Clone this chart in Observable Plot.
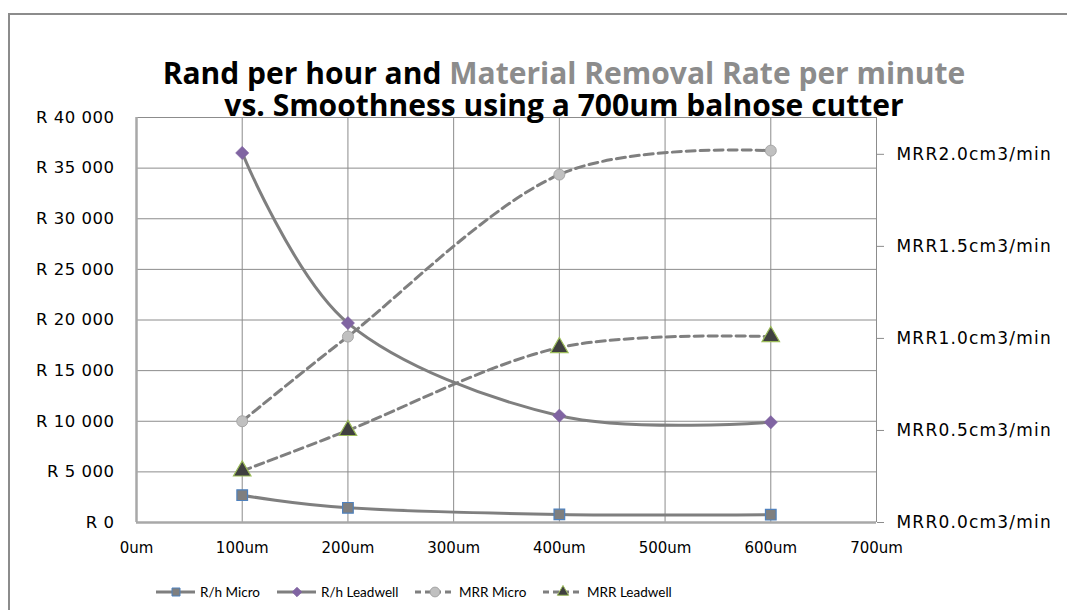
<!DOCTYPE html>
<html><head><meta charset="utf-8">
<script src="https://cdn.jsdelivr.net/npm/d3@7"></script>
<script src="https://cdn.jsdelivr.net/npm/@observablehq/plot@0.6"></script>
<style>
body{margin:0;background:#fff;}
#wrap{position:relative;width:1067px;height:610px;overflow:hidden;font-family:"DejaVu Sans",sans-serif;background:#fff;}
#frame{position:absolute;left:8px;top:13px;width:1200px;height:700px;border:2px solid #8c8c8c;}
#title{position:absolute;left:0;top:57px;width:1128px;text-align:center;font-family:"Open Sans",sans-serif;font-weight:700;font-size:30px;line-height:32px;color:#000;white-space:nowrap;z-index:2;}
#title .g{color:#8c8c8c;}
#plot{position:absolute;left:0;top:100px;z-index:1;}
.leg{position:absolute;top:583px;height:18px;display:flex;align-items:center;font-family:Lato,sans-serif;font-size:13.5px;color:#000;white-space:nowrap;}
.leg svg{margin-right:4px;}
</style>
</head><body>
<div id="wrap">
  <div id="frame"></div>
  <div id="title">Rand per hour and <span class="g">Material Removal Rate per minute</span><br>vs. Smoothness using a 700um balnose cutter</div>
  <div id="plot"></div>
  <div id="legend"></div>
</div>
<script>
// ---- data ----
const smoothness = [100, 200, 400, 600];            // um
const rhMicro    = [2700, 1450, 800, 770];          // Rand per hour
const rhLeadwell = [36500, 19700, 10550, 9900];     // Rand per hour
const mrrMicro   = [0.55, 1.01, 1.89, 2.02];        // cm3/min
const mrrLeadwell= [0.28, 0.50, 0.95, 1.01];        // cm3/min
const seriesNames = ["R/h Micro", "R/h Leadwell", "MRR Micro", "MRR Leadwell"];
const xTicks = [0, 100, 200, 300, 400, 500, 600, 700];
const leftTicks = [0, 5000, 10000, 15000, 20000, 25000, 30000, 35000, 40000];
const rightTicks = [0, 0.5, 1.0, 1.5, 2.0];
const leftMax = 40000, rightMax = 2.2;

// ---- build ----
const K = leftMax / rightMax;
const rh = [], mrr = [];
smoothness.forEach((s, i) => {
  rh.push({x: s, y: rhMicro[i], series: seriesNames[0]});
  rh.push({x: s, y: rhLeadwell[i], series: seriesNames[1]});
  mrr.push({x: s, y: mrrMicro[i] * K, v: mrrMicro[i], series: seriesNames[2]});
  mrr.push({x: s, y: mrrLeadwell[i] * K, v: mrrLeadwell[i], series: seriesNames[3]});
});
const sel = (arr, name) => arr.filter(d => d.series === name);
const fmtR = d => "R " + d3.format(",")(d).replace(/,/g, " ");
const curve = d3.curveCardinal.tension(0);

const grid = "#8c8c8c";
const line = "#7f7f7f";
const chart = Plot.plot({
  width: 1067, height: 460,
  marginLeft: 136, marginRight: 191, marginTop: 17, marginBottom: 38,
  style: {fontFamily: "DejaVu Sans, sans-serif", fontSize: "15px", color: "#000", background: "transparent"},
  x: {domain: [0, 700]},
  y: {domain: [0, leftMax]},
  marks: [
    Plot.gridX(xTicks, {stroke: grid, strokeOpacity: 1}),
    Plot.gridY(leftTicks, {stroke: grid, strokeOpacity: 1}),
    Plot.ruleX([0], {stroke: "#a8a8a8", strokeWidth: 2.5}),
    Plot.ruleY([0], {stroke: "#a8a8a8", strokeWidth: 2.5}),
    Plot.axisY(leftTicks, {anchor: "left", tickSize: 0, tickPadding: 22, tickFormat: fmtR, label: null, fontSize: 16.5}),
    Plot.axisY(rightTicks.map(v => v * K), {anchor: "right", tickSize: 7, stroke: grid, tickPadding: 13, tickFormat: d => "MRR" + (d / K).toFixed(1) + "cm3/min", label: null, fontSize: 17}),
    Plot.axisX(xTicks, {anchor: "bottom", tickSize: 0, tickPadding: 20, tickFormat: d => d + "um", label: null, fontSize: 15}),
    Plot.line(rh, {x: "x", y: "y", z: "series", curve, stroke: line, strokeWidth: 3}),
    Plot.line(mrr, {x: "x", y: "y", z: "series", curve, stroke: line, strokeWidth: 3, strokeDasharray: "9,5"}),
    Plot.dot(sel(rh, seriesNames[0]), {x: "x", y: "y", symbol: "square", r: 6, fill: "#7f7f7f", stroke: "#4f81bd", strokeWidth: 1.2}),
    Plot.dot(sel(rh, seriesNames[1]), {x: "x", y: "y", symbol: "diamond2", r: 6, fill: "#8064a2", stroke: "#8064a2", strokeWidth: 0.5}),
    Plot.dot(sel(mrr, seriesNames[2]), {x: "x", y: "y", symbol: "circle", r: 5.5, fill: "#c0c0c0", stroke: "#a6a6a6", strokeWidth: 1}),
    Plot.dot(sel(mrr, seriesNames[3]), {x: "x", y: "y", symbol: "triangle", r: 6.5, fill: "#404040", stroke: "#9bbb59", strokeWidth: 1.2})
  ]
});
// widen the y tick labels a little (reference font is wider)
d3.select(chart).selectAll('g[aria-label="y-axis tick label"]').each(function() {
  const anchor = this.getAttribute("text-anchor");
  d3.select(this).style("letter-spacing", anchor === "start" ? "1.2px" : "0.5px");
});
document.getElementById("plot").appendChild(chart);

// ---- legend ----
const legItems = [
  {name: seriesNames[0], left: 155, dash: null, sym: d3.symbolSquare, size: 64, fill: "#7f7f7f", stroke: "#4f81bd"},
  {name: seriesNames[1], left: 276, dash: null, sym: d3.symbolDiamond2, size: 55, fill: "#8064a2", stroke: "#8064a2"},
  {name: seriesNames[2], left: 414, dash: "6,4", sym: d3.symbolCircle, size: 75, fill: "#c0c0c0", stroke: "#a6a6a6"},
  {name: seriesNames[3], left: 542, dash: "6,4", sym: d3.symbolTriangle, size: 55, fill: "#404040", stroke: "#9bbb59"}
];
const leg = document.getElementById("legend");
legItems.forEach(it => {
  const div = document.createElement("div");
  div.className = "leg";
  div.style.left = it.left + "px";
  const svg = d3.create("svg").attr("width", 41).attr("height", 14);
  svg.append("line").attr("x1", 1).attr("x2", 40).attr("y1", 7).attr("y2", 7)
    .attr("stroke", line).attr("stroke-width", 3).attr("stroke-dasharray", it.dash);
  svg.append("path").attr("d", d3.symbol(it.sym, it.size)()).attr("transform", "translate(21,7)")
    .attr("fill", it.fill).attr("stroke", it.stroke).attr("stroke-width", 1);
  div.appendChild(svg.node());
  const span = document.createElement("span");
  span.textContent = it.name;
  div.appendChild(span);
  leg.appendChild(div);
});
</script>
</body></html>
